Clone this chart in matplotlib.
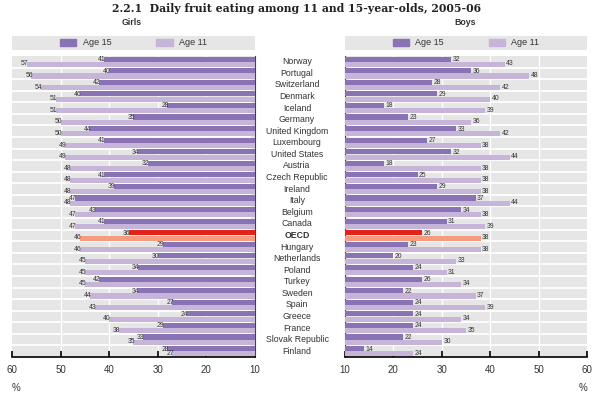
import matplotlib
matplotlib.use("Agg")
import matplotlib.pyplot as plt
from matplotlib.patches import Patch
from matplotlib.transforms import blended_transform_factory

# ---- data ----
countries = ["Norway", "Portugal", "Switzerland", "Denmark", "Iceland", "Germany",
             "United Kingdom", "Luxembourg", "United States", "Austria",
             "Czech Republic", "Ireland", "Italy", "Belgium", "Canada", "OECD",
             "Hungary", "Netherlands", "Poland", "Turkey", "Sweden", "Spain",
             "Greece", "France", "Slovak Republic", "Finland"]

girls_15 = [41, 40, 42, 46, 28, 35, 44, 41, 34, 32, 41, 39, 47, 43, 41, 36,
            29, 30, 34, 42, 34, 27, 24, 29, 33, 28]
girls_11 = [57, 56, 54, 51, 51, 50, 50, 49, 49, 48, 48, 48, 48, 47, 47, 46,
            46, 45, 45, 45, 44, 43, 40, 38, 35, 27]
boys_15 = [32, 36, 28, 29, 18, 23, 33, 27, 32, 18, 25, 29, 37, 34, 31, 26,
           23, 20, 24, 26, 22, 24, 24, 24, 22, 14]
boys_11 = [43, 48, 42, 40, 39, 36, 42, 38, 44, 38, 38, 38, 44, 38, 39, 38,
           38, 33, 31, 34, 37, 39, 34, 35, 30, 24]

x_ticks = [60, 50, 40, 30, 20, 10]

# ---- style ----
C15 = "#8a73b5"
C11 = "#c7b5d9"
C15_OECD = "#e2231a"
C11_OECD = "#f59b80"
BG = "#e6e6e7"
TXT = "#333333"

plt.rcParams["font.family"] = ["Liberation Sans", "DejaVu Sans"]

fig = plt.figure(figsize=(5.94, 3.94), dpi=100)

ax_g = fig.add_axes([0.0202, 0.0939, 0.409, 0.7640])
ax_b = fig.add_axes([0.5808, 0.0939, 0.4074, 0.7640])

n = len(countries)
ypos = list(range(n))
h = 0.44
off = 0.23


def draw_panel(ax, v15, v11, side):
    ax.set_facecolor(BG)
    c15 = [C15_OECD if c == "OECD" else C15 for c in countries]
    c11 = [C11_OECD if c == "OECD" else C11 for c in countries]
    y15 = [y - off for y in ypos]
    y11 = [y + off for y in ypos]
    ax.barh(y15, [v - 10 for v in v15], left=10, height=h, color=c15, zorder=3)
    ax.barh(y11, [v - 10 for v in v11], left=10, height=h, color=c11, zorder=3)

    ha = "right" if side == "left" else "left"
    pad = -0.3 if side == "left" else 0.3
    for y, v in zip(y15, v15):
        ax.text(v + pad, y + 0.04, str(v), ha=ha, va="center", fontsize=4.9,
                color=TXT, zorder=4)
    for y, v in zip(y11, v11):
        ax.text(v + pad, y - 0.04, str(v), ha=ha, va="center", fontsize=4.9,
                color=TXT, zorder=4)

    # white row separators and vertical grid
    for y in ypos[:-1]:
        ax.axhline(y + 0.5, color="white", lw=1.3, zorder=2)
    for x in [20, 30, 40, 50]:
        ax.axvline(x, color="white", lw=1.0, zorder=1)

    ax.set_ylim(n - 0.5, -0.5)
    if side == "left":
        ax.set_xlim(60, 10)
    else:
        ax.set_xlim(10, 60)
    ax.set_xticks(x_ticks)
    ax.set_xticklabels([str(t) for t in x_ticks])
    ax.tick_params(axis="x", direction="in", length=4, width=1.2, color="black",
                   labelsize=7, labelcolor=TXT, pad=6)

    # ticks at row boundaries on the inner (value 10) edge
    ax.set_yticks([y + 0.5 for y in ypos[:-1]])
    ax.set_yticklabels([])
    for s in ax.spines.values():
        s.set_visible(False)
    ax.spines["bottom"].set_visible(True)
    ax.spines["bottom"].set_linewidth(1.2)
    if side == "left":
        ax.spines["right"].set_visible(True)
        ax.spines["right"].set_color("#444444")
        ax.yaxis.tick_right()
        ax.text(0.0, -0.085, "%", transform=ax.transAxes, ha="left", va="top",
                fontsize=7, color=TXT)
    else:
        ax.spines["left"].set_visible(True)
        ax.spines["left"].set_color("#444444")
        ax.yaxis.tick_left()
        ax.text(1.0, -0.085, "%", transform=ax.transAxes, ha="right", va="top",
                fontsize=7, color=TXT)
    ax.tick_params(axis="y", direction="in", length=3, width=1.5, color="black")


draw_panel(ax_g, girls_15, girls_11, "left")
draw_panel(ax_b, boys_15, boys_11, "right")

# country names in the middle
tr = blended_transform_factory(fig.transFigure, ax_g.transData)
for y, c in zip(ypos, countries):
    ax_g.text(0.5, y, c, transform=tr, ha="center", va="center", fontsize=6.3,
              color=TXT, fontweight="bold" if c == "OECD" else "normal",
              clip_on=False)

# legend boxes
handles = [Patch(color=C15, label="Age 15"), Patch(color=C11, label="Age 11")]
for x0, w in [(0.0202, 0.409), (0.5808, 0.4074)]:
    lax = fig.add_axes([x0, 0.873, w, 0.036])
    lax.set_facecolor(BG)
    lax.set_xticks([])
    lax.set_yticks([])
    for s in lax.spines.values():
        s.set_visible(False)
    leg = lax.legend(handles=handles, ncol=2, loc="center", frameon=False,
                     fontsize=6.5, handlelength=1.8, handleheight=0.8,
                     handletextpad=0.7, columnspacing=5.0, borderpad=0)
    for t in leg.get_texts():
        t.set_color(TXT)

fig.text(0.5, 0.979, "2.2.1  Daily fruit eating among 11 and 15-year-olds, 2005-06",
         ha="center", va="center", fontsize=7.8, fontweight="bold",
         family="DejaVu Serif", color="#222222")
fig.text(0.222, 0.942, "Girls", ha="center", va="center", fontsize=6.3,
         fontweight="bold", color=TXT)
fig.text(0.783, 0.942, "Boys", ha="center", va="center", fontsize=6.3,
         fontweight="bold", color=TXT)

fig.savefig("out.png", dpi=100)
